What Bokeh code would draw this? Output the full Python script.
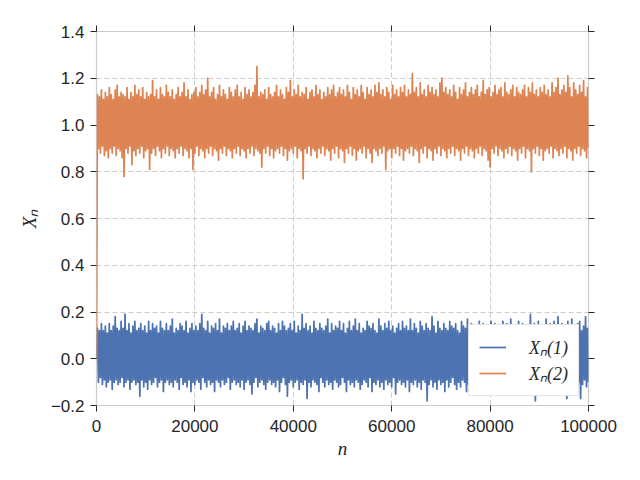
from bokeh.plotting import figure
from bokeh.models import (LinearAxis, FixedTicker, Legend, LegendItem, Range1d,
                          CustomLabelingPolicy)
from bokeh.embed import file_html
from bokeh.resources import INLINE

# ---- data: reading of the two noisy series, one sample every 200 steps ----
n_values = list(range(0, 100001, 200))

x_n_1 = [
    0.00, 0.13, -0.10, 0.12, -0.08, 0.15, -0.11, 0.12, -0.09, 0.14,
    -0.12, 0.11, -0.10, 0.15, -0.09, 0.12, -0.13, 0.14, -0.10, 0.18,
    -0.09, 0.13, -0.11, 0.12, -0.10, 0.16, -0.08, 0.13, -0.12, 0.19,
    -0.10, 0.12, -0.09, 0.15, -0.13, 0.11, -0.10, 0.14, -0.09, 0.16,
    -0.11, 0.12, -0.10, 0.13, -0.16, 0.15, -0.09, 0.12, -0.12, 0.14,
    -0.10, 0.11, -0.13, 0.16, -0.09, 0.12, -0.11, 0.15, -0.10, 0.13,
    -0.08, 0.14, -0.12, 0.11, -0.10, 0.16, -0.09, 0.13, -0.14, 0.12,
    -0.10, 0.15, -0.09, 0.12, -0.11, 0.14, -0.10, 0.17, -0.12, 0.11,
    -0.09, 0.13, -0.10, 0.12, -0.13, 0.15, -0.08, 0.14, -0.11, 0.12,
    -0.10, 0.16, -0.12, 0.11, -0.09, 0.13, -0.14, 0.15, -0.10, 0.12,
    -0.11, 0.14, -0.09, 0.12, -0.10, 0.15, -0.13, 0.19, -0.08, 0.13,
    -0.10, 0.12, -0.12, 0.16, -0.09, 0.11, -0.11, 0.14, -0.10, 0.13,
    -0.14, 0.15, -0.09, 0.12, -0.10, 0.17, -0.12, 0.11, -0.09, 0.14,
    -0.11, 0.13, -0.10, 0.15, -0.08, 0.12, -0.13, 0.14, -0.10, 0.16,
    -0.09, 0.12, -0.11, 0.13, -0.10, 0.15, -0.12, 0.11, -0.09, 0.14,
    -0.13, 0.16, -0.10, 0.12, -0.09, 0.14, -0.11, 0.13, -0.15, 0.12,
    -0.10, 0.15, -0.08, 0.17, -0.12, 0.11, -0.10, 0.14, -0.09, 0.13,
    -0.11, 0.12, -0.13, 0.15, -0.10, 0.16, -0.09, 0.12, -0.11, 0.14,
    -0.10, 0.13, -0.12, 0.11, -0.09, 0.15, -0.14, 0.12, -0.10, 0.16,
    -0.08, 0.14, -0.11, 0.12, -0.16, 0.13, -0.10, 0.15, -0.09, 0.12,
    -0.12, 0.16, -0.10, 0.11, -0.09, 0.14, -0.13, 0.12, -0.10, 0.19,
    -0.11, 0.13, -0.09, 0.15, -0.17, 0.12, -0.10, 0.14, -0.12, 0.11,
    -0.09, 0.16, -0.10, 0.13, -0.11, 0.12, -0.14, 0.15, -0.08, 0.13,
    -0.10, 0.12, -0.12, 0.14, -0.09, 0.17, -0.11, 0.11, -0.10, 0.15,
    -0.13, 0.12, -0.09, 0.14, -0.10, 0.13, -0.12, 0.16, -0.11, 0.12,
    -0.08, 0.15, -0.10, 0.11, -0.14, 0.13, -0.09, 0.16, -0.11, 0.12,
    -0.10, 0.14, -0.12, 0.17, -0.09, 0.12, -0.10, 0.15, -0.13, 0.11,
    -0.11, 0.13, -0.09, 0.12, -0.10, 0.16, -0.12, 0.14, -0.08, 0.13,
    -0.14, 0.15, -0.10, 0.12, -0.11, 0.11, -0.09, 0.17, -0.12, 0.14,
    -0.10, 0.12, -0.13, 0.15, -0.09, 0.13, -0.11, 0.16, -0.10, 0.12,
    -0.12, 0.14, -0.08, 0.11, -0.15, 0.13, -0.10, 0.15, -0.09, 0.12,
    -0.11, 0.16, -0.10, 0.13, -0.12, 0.14, -0.09, 0.12, -0.14, 0.17,
    -0.10, 0.12, -0.11, 0.15, -0.09, 0.13, -0.12, 0.11, -0.10, 0.16,
    -0.13, 0.14, -0.09, 0.12, -0.10, 0.15, -0.18, 0.13, -0.11, 0.12,
    -0.09, 0.18, -0.12, 0.14, -0.10, 0.11, -0.13, 0.16, -0.09, 0.13,
    -0.11, 0.12, -0.10, 0.15, -0.14, 0.13, -0.09, 0.12, -0.12, 0.16,
    -0.10, 0.14, -0.08, 0.13, -0.11, 0.15, -0.13, 0.12, -0.10, 0.11,
    -0.12, 0.16, -0.09, 0.14, -0.10, 0.13, -0.14, 0.17, -0.11, 0.12,
    -0.10, 0.15, -0.12, 0.11, -0.09, 0.14, -0.10, 0.13, -0.15, 0.16,
    -0.09, 0.12, -0.11, 0.15, -0.10, 0.13, -0.12, 0.14, -0.08, 0.12,
    -0.13, 0.16, -0.10, 0.13, -0.09, 0.15, -0.11, 0.12, -0.14, 0.14,
    -0.10, 0.11, -0.12, 0.16, -0.09, 0.13, -0.10, 0.15, -0.13, 0.12,
    -0.11, 0.17, -0.09, 0.12, -0.10, 0.14, -0.15, 0.13, -0.11, 0.16,
    -0.10, 0.12, -0.13, 0.15, -0.09, 0.11, -0.12, 0.14, -0.10, 0.13,
    -0.14, 0.19, -0.10, 0.12, -0.11, 0.15, -0.18, 0.13, -0.09, 0.16,
    -0.12, 0.12, -0.10, 0.14, -0.13, 0.11, -0.09, 0.17, -0.11, 0.13,
    -0.10, 0.15, -0.12, 0.12, -0.09, 0.16, -0.14, 0.13, -0.10, 0.18,
    -0.11, 0.12, -0.13, 0.15, -0.10, 0.14, -0.09, 0.12, -0.17, 0.16,
    -0.10, 0.13, -0.12, 0.17, -0.09, 0.14, -0.11, 0.12, -0.13, 0.15,
    -0.10, 0.16, -0.17, 0.12, -0.11, 0.14, -0.09, 0.18, -0.12, 0.13,
    -0.10,
]

x_n_2 = [
    0.00, 1.13, 0.90, 1.12, 0.88, 1.15, 0.91, 1.11, 0.87, 1.14,
    0.89, 1.12, 0.86, 1.16, 0.90, 1.13, 0.88, 1.11, 0.91, 1.15,
    0.87, 1.17, 0.90, 1.12, 0.89, 1.14, 0.86, 1.13, 0.78, 1.12,
    0.90, 1.16, 0.88, 1.11, 0.91, 1.14, 0.83, 1.12, 0.89, 1.17,
    0.87, 1.13, 0.90, 1.15, 0.88, 1.12, 0.91, 1.16, 0.86, 1.11,
    0.89, 1.14, 0.90, 1.12, 0.81, 1.13, 0.88, 1.19, 0.90, 1.12,
    0.87, 1.15, 0.91, 1.11, 0.89, 1.16, 0.86, 1.13, 0.90, 1.12,
    0.88, 1.17, 0.91, 1.14, 0.87, 1.12, 0.90, 1.15, 0.89, 1.11,
    0.86, 1.13, 0.90, 1.16, 0.88, 1.12, 0.91, 1.14, 0.87, 1.18,
    0.90, 1.12, 0.89, 1.15, 0.86, 1.11, 0.90, 1.13, 0.81, 1.14,
    0.88, 1.16, 0.91, 1.12, 0.87, 1.14, 0.90, 1.17, 0.89, 1.13,
    0.86, 1.15, 0.90, 1.20, 0.88, 1.12, 0.91, 1.14, 0.87, 1.16,
    0.90, 1.11, 0.89, 1.13, 0.85, 1.17, 0.90, 1.12, 0.88, 1.15,
    0.91, 1.13, 0.87, 1.11, 0.90, 1.16, 0.89, 1.14, 0.86, 1.12,
    0.90, 1.15, 0.88, 1.17, 0.91, 1.12, 0.87, 1.14, 0.90, 1.11,
    0.89, 1.16, 0.86, 1.13, 0.90, 1.15, 0.88, 1.12, 0.91, 1.14,
    0.87, 1.17, 0.90, 1.25, 0.89, 1.12, 0.88, 1.14, 0.82, 1.13,
    0.90, 1.15, 0.88, 1.11, 0.91, 1.16, 0.87, 1.13, 0.90, 1.12,
    0.86, 1.14, 0.89, 1.17, 0.90, 1.12, 0.88, 1.15, 0.91, 1.13,
    0.87, 1.11, 0.90, 1.16, 0.85, 1.14, 0.89, 1.19, 0.90, 1.12,
    0.88, 1.15, 0.91, 1.13, 0.86, 1.17, 0.90, 1.12, 0.89, 1.14,
    0.77, 1.13, 0.90, 1.16, 0.88, 1.11, 0.91, 1.14, 0.87, 1.15,
    0.90, 1.12, 0.89, 1.17, 0.86, 1.13, 0.90, 1.15, 0.88, 1.11,
    0.91, 1.14, 0.87, 1.12, 0.90, 1.16, 0.89, 1.13, 0.85, 1.15,
    0.90, 1.17, 0.88, 1.12, 0.91, 1.14, 0.86, 1.16, 0.90, 1.13,
    0.89, 1.15, 0.84, 1.12, 0.90, 1.17, 0.88, 1.14, 0.91, 1.11,
    0.87, 1.16, 0.90, 1.13, 0.85, 1.15, 0.89, 1.12, 0.90, 1.17,
    0.88, 1.14, 0.91, 1.11, 0.86, 1.16, 0.90, 1.13, 0.88, 1.15,
    0.84, 1.12, 0.90, 1.17, 0.89, 1.14, 0.87, 1.18, 0.90, 1.13,
    0.88, 1.15, 0.91, 1.12, 0.81, 1.16, 0.89, 1.14, 0.90, 1.11,
    0.86, 1.17, 0.90, 1.13, 0.88, 1.15, 0.91, 1.12, 0.87, 1.16,
    0.90, 1.14, 0.85, 1.17, 0.89, 1.12, 0.90, 1.15, 0.88, 1.13,
    0.91, 1.22, 0.87, 1.14, 0.90, 1.16, 0.89, 1.12, 0.84, 1.18,
    0.90, 1.13, 0.88, 1.15, 0.91, 1.12, 0.86, 1.17, 0.90, 1.14,
    0.89, 1.16, 0.85, 1.13, 0.90, 1.15, 0.88, 1.12, 0.91, 1.18,
    0.87, 1.20, 0.90, 1.14, 0.89, 1.16, 0.86, 1.13, 0.90, 1.15,
    0.88, 1.12, 0.91, 1.17, 0.87, 1.14, 0.90, 1.11, 0.89, 1.16,
    0.85, 1.13, 0.90, 1.15, 0.88, 1.18, 0.91, 1.12, 0.87, 1.14,
    0.90, 1.16, 0.89, 1.13, 0.86, 1.15, 0.90, 1.17, 0.88, 1.12,
    0.91, 1.14, 0.87, 1.19, 0.90, 1.13, 0.89, 1.15, 0.85, 1.16,
    0.82, 1.12, 0.90, 1.14, 0.88, 1.17, 0.91, 1.13, 0.87, 1.15,
    0.90, 1.16, 0.89, 1.12, 0.86, 1.18, 0.90, 1.14, 0.88, 1.13,
    0.91, 1.15, 0.87, 1.17, 0.90, 1.12, 0.89, 1.16, 0.85, 1.14,
    0.90, 1.13, 0.88, 1.15, 0.91, 1.17, 0.86, 1.12, 0.90, 1.16,
    0.89, 1.14, 0.80, 1.18, 0.90, 1.13, 0.88, 1.15, 0.91, 1.12,
    0.87, 1.16, 0.90, 1.14, 0.85, 1.17, 0.89, 1.13, 0.90, 1.15,
    0.88, 1.12, 0.91, 1.18, 0.86, 1.14, 0.90, 1.16, 0.89, 1.20,
    0.87, 1.13, 0.90, 1.15, 0.88, 1.17, 0.91, 1.14, 0.86, 1.21,
    0.90, 1.16, 0.89, 1.12, 0.85, 1.18, 0.90, 1.15, 0.88, 1.13,
    0.91, 1.17, 0.87, 1.14, 0.90, 1.19, 0.89, 1.12, 0.86, 1.16,
    0.90,
]

x_ticks = [0, 20000, 40000, 60000, 80000, 100000]
x_tick_labels = ["0", "20000", "40000", "60000", "80000", "100000"]
y_ticks = [-0.2, 0.0, 0.2, 0.4, 0.6, 0.8, 1.0, 1.2, 1.4]
y_tick_labels = ["\u22120.2", "0.0", "0.2", "0.4", "0.6", "0.8", "1.0", "1.2", "1.4"]
series_labels = ["X\u2099(1)", "X\u2099(2)"]
x_label = "n"
y_label = "X\u2099"

BLUE = "#4C72B0"
ORANGE = "#DD8452"
TEXT = "#262626"
LIGHT = "#cccccc"

p = figure(
    x_range=Range1d(0, 100000), y_range=Range1d(-0.2, 1.4),
    frame_width=492, frame_height=374,
    min_border_left=96, min_border_top=31, min_border_right=36, min_border_bottom=56,
    output_backend="svg", toolbar_location=None,
    x_axis_location=None, y_axis_location=None,
    background_fill_color="white", border_fill_color="white",
)
p.outline_line_color = LIGHT
p.outline_line_width = 1.2

r1 = p.line(n_values, x_n_1, line_color=BLUE, line_width=1.75, line_join="round")
r2 = p.line(n_values, x_n_2, line_color=ORANGE, line_width=1.75, line_join="round")

xt = FixedTicker(ticks=x_ticks)
yt = FixedTicker(ticks=y_ticks)


def style_axis(ax):
    ax.axis_line_color = None
    ax.major_tick_line_color = TEXT
    ax.major_tick_line_width = 1
    ax.major_tick_out = 6
    ax.major_tick_in = 0
    ax.minor_tick_line_color = None
    ax.major_label_text_font = "Liberation Sans"
    ax.major_label_text_font_size = "17px"
    ax.major_label_text_color = TEXT


bottom = LinearAxis(ticker=xt, major_label_overrides=dict(zip(x_ticks, x_tick_labels)))
style_axis(bottom)
bottom.major_label_standoff = 8
bottom.axis_label = x_label
bottom.axis_label_text_font = "Liberation Serif"
bottom.axis_label_text_font_style = "italic"
bottom.axis_label_text_font_size = "19px"
bottom.axis_label_text_color = TEXT
bottom.axis_label_standoff = 3
p.add_layout(bottom, "below")

left = LinearAxis(ticker=yt, major_label_overrides=dict(zip(y_ticks, y_tick_labels)))
style_axis(left)
left.major_label_standoff = 6
left.axis_label = y_label
left.axis_label_text_font = "Liberation Serif"
left.axis_label_text_font_style = "italic"
left.axis_label_text_font_size = "19px"
left.axis_label_text_color = TEXT
left.axis_label_standoff = 8
p.add_layout(left, "left")

no_labels = """
try {
  const n = indices.size;
  if (typeof indices.unset === "function") {
    for (let i = 0; i < n; i++) { indices.unset(i); }
  } else if (typeof indices.clear === "function") {
    indices.clear();
  }
} catch (e) {}
return indices;
"""

top = LinearAxis(ticker=xt, major_label_policy=CustomLabelingPolicy(code=no_labels))
style_axis(top)
top.major_label_text_font_size = "0px"
p.add_layout(top, "above")

right = LinearAxis(ticker=yt, major_label_policy=CustomLabelingPolicy(code=no_labels))
style_axis(right)
right.major_label_text_font_size = "0px"
p.add_layout(right, "right")

p.xgrid.ticker = xt
p.ygrid.ticker = yt
for g in (p.xgrid, p.ygrid):
    g.grid_line_color = LIGHT
    g.grid_line_width = 1
    g.grid_line_dash = "5 3"

legend = Legend(
    items=[LegendItem(label=series_labels[0], renderers=[r1]),
           LegendItem(label=series_labels[1], renderers=[r2])],
    location="bottom_right",
)
legend.label_text_font = "Liberation Serif"
legend.label_text_font_style = "italic"
legend.label_text_font_size = "18px"
legend.label_text_color = TEXT
legend.border_line_color = LIGHT
legend.border_line_width = 1
legend.background_fill_color = "white"
legend.background_fill_alpha = 1.0
legend.glyph_width = 27
legend.glyph_height = 20
legend.label_standoff = 23
legend.padding = 10
legend.spacing = 2
legend.margin = 9
p.add_layout(legend)

open("out.html", "w").write(file_html(p, INLINE))
